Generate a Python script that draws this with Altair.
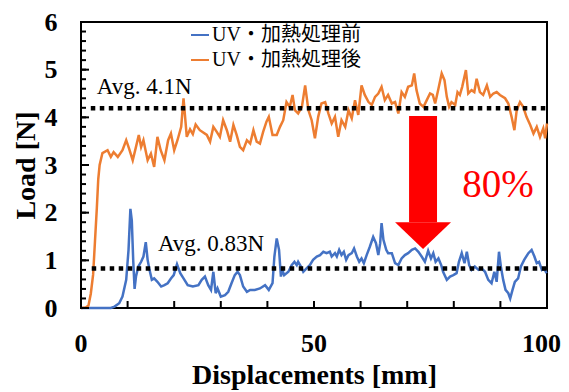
import altair as alt
import pandas as pd

# ---------------- data ----------------
series_names = ["UV・加熱処理前", "UV・加熱処理後"]
series_colors = ["#4472C4", "#ED7D31"]

before_x = [0, 6.4, 7.2, 8.2, 8.9, 9.7, 10.2, 10.6, 10.9, 11.2, 11.5, 11.8, 12.3, 12.9, 13.4, 13.9, 14.3, 14.7,
            15.2, 15.7, 16.4, 17.2, 17.9, 18.6, 19.3, 19.9, 20.6, 21.3, 22.2, 22.9, 24.0, 25.2, 25.9, 26.6, 27.3,
            27.9, 28.4, 28.9, 29.3, 30.0, 30.9, 31.6, 32.3, 33.0, 33.6, 34.1, 34.8, 35.6, 36.3, 37.3, 38.4, 39.5,
            40.3, 41.1, 41.5, 42.0, 42.5, 42.9, 43.2, 43.6, 44.5, 45.2, 45.8, 46.3, 46.6, 47.2, 47.7, 48.4, 49.1,
            49.8, 50.6, 51.3, 52.0, 52.7, 53.4, 53.8, 54.5, 54.9, 55.4, 55.9, 56.4, 56.9, 57.4, 58.1, 58.6, 59.2,
            59.7, 60.2, 60.7, 61.3, 62.0, 62.7, 63.3, 63.8, 64.2, 64.5, 64.9, 65.5, 65.9, 66.7, 67.4, 68.1, 68.8,
            69.5, 70.2, 71.0, 71.7, 72.4, 73.1, 73.8, 74.5, 75.1, 75.6, 76.1, 76.7, 77.3, 77.7, 78.5, 79.2, 79.9,
            80.6, 81.1, 81.7, 82.3, 82.8, 83.3, 83.8, 84.5, 85.3, 86.0, 86.7, 87.4, 88.1, 88.7, 89.2, 89.7, 90.1,
            90.6, 91.1, 91.7, 92.1, 92.6, 93.1, 93.8, 94.4, 95.1, 96.0, 96.7, 97.3, 97.8, 98.3, 98.9, 99.4, 99.9]
before_y = [0, 0, 0.03, 0.10, 0.24, 0.59, 1.22, 2.08, 1.84, 1.01, 0.40, 0.66, 0.87, 0.97, 1.08, 1.38, 1.01, 0.80,
            0.59, 0.62, 0.55, 0.45, 0.48, 0.52, 0.62, 0.69, 0.92, 0.73, 0.59, 0.48, 0.45, 0.48, 0.59, 0.66, 0.48,
            0.38, 0.76, 0.31, 0.41, 0.24, 0.27, 0.34, 0.52, 0.69, 0.76, 0.69, 0.45, 0.34, 0.38, 0.38, 0.41, 0.48,
            0.38, 0.52, 1.08, 1.46, 1.22, 0.66, 0.80, 0.69, 0.76, 0.90, 0.97, 0.90, 0.97, 0.87, 0.76, 0.83, 0.90,
            1.01, 1.08, 1.11, 1.18, 1.15, 1.18, 1.08, 1.15, 1.08, 1.22, 1.11, 1.18, 1.01, 1.11, 1.15, 1.25, 1.08,
            0.97, 1.04, 0.94, 1.11, 1.29, 1.49, 1.36, 1.11, 1.36, 1.78, 1.43, 1.22, 1.15, 1.15, 0.94, 0.90, 1.04,
            1.11, 1.15, 1.22, 1.25, 1.18, 1.08, 0.97, 1.20, 1.04, 1.15, 0.97, 1.04, 0.90, 0.76, 0.59, 0.66, 0.69,
            0.73, 0.97, 1.15, 0.94, 1.18, 0.90, 0.80, 0.87, 0.80, 0.83, 0.76, 0.59, 0.52, 0.76, 0.55, 1.18, 0.87,
            0.59, 0.38, 0.31, 0.20, 0.38, 0.55, 0.62, 0.87, 1.01, 1.15, 1.22, 1.08, 0.94, 0.97, 0.80, 0.83, 0.73]

after_x = [0, 1.0, 1.6, 2.1, 2.6, 3.0, 3.4, 3.7, 4.0, 4.6, 5.7, 6.4, 7.0, 7.9, 8.9, 9.7, 10.3, 11.1, 11.8, 12.4,
           12.9, 13.4, 14.3, 15.0, 15.7, 16.4, 17.1, 17.9, 18.7, 19.3, 20.0, 20.7, 21.5, 22.0, 22.7, 23.4, 24.0,
           24.6, 25.5, 27.0, 27.7, 28.4, 29.1, 29.8, 30.5, 31.3, 32.0, 32.7, 33.4, 34.1, 34.8, 35.6, 36.3, 37.0,
           37.7, 38.4, 39.1, 39.8, 40.3, 41.1, 42.0, 42.7, 43.4, 44.1, 44.8, 45.4, 45.9, 46.6, 47.4, 48.1, 48.8,
           49.5, 50.2, 50.9, 51.6, 52.4, 53.1, 53.8, 54.5, 55.2, 55.9, 56.7, 57.4, 58.1, 58.8, 59.5, 60.2, 60.9,
           61.7, 62.4, 63.1, 63.8, 64.5, 65.2, 65.9, 66.7, 67.4, 68.1, 68.8, 69.5, 70.2, 71.0, 71.5, 72.0, 72.7,
           73.5, 74.2, 74.9, 75.5, 76.0, 76.7, 77.4, 78.0, 78.5, 79.0, 79.5, 80.3, 80.8, 81.3, 81.8, 82.6, 83.1,
           83.8, 84.4, 84.9, 85.6, 86.3, 87.1, 87.8, 88.5, 89.2, 89.9, 91.0, 91.7, 92.4, 93.0, 93.5, 94.2, 94.9,
           95.6, 96.4, 97.1, 97.8, 98.5, 99.2, 99.6, 100]
after_y = [0, 0.01, 0.05, 0.30, 0.70, 1.40, 2.10, 2.70, 3.00, 3.25, 3.31, 3.17, 3.27, 3.17, 3.31, 3.52, 3.35, 3.10,
           3.38, 3.63, 3.38, 3.52, 3.10, 3.24, 2.96, 3.59, 3.31, 3.10, 3.52, 3.66, 3.31, 3.52, 3.80, 4.40, 3.59,
           3.75, 3.65, 3.85, 3.73, 3.63, 3.49, 3.80, 3.70, 3.59, 3.94, 3.73, 3.49, 3.84, 3.63, 3.38, 3.31, 3.52,
           3.45, 3.73, 3.49, 3.45, 3.70, 3.91, 4.01, 3.63, 3.63, 3.80, 3.94, 4.32, 4.22, 4.47, 4.15, 4.08, 4.22,
           4.67, 4.15, 3.94, 3.56, 4.01, 4.29, 4.32, 4.08, 3.87, 4.01, 3.59, 3.94, 3.80, 4.15, 3.98, 4.36, 4.05,
           4.67, 4.47, 4.32, 4.26, 4.43, 4.50, 4.64, 4.36, 4.47, 4.29, 4.32, 4.08, 4.53, 4.43, 4.64, 4.67, 4.92,
           4.57, 4.29, 4.22, 4.36, 4.50, 4.47, 4.29, 4.60, 4.92, 4.78, 4.43, 4.22, 4.32, 4.26, 4.53, 4.47, 4.64,
           4.99, 4.50, 4.57, 4.53, 4.81, 4.53, 4.47, 4.67, 4.43, 4.50, 4.53, 4.47, 4.40, 4.29, 4.01, 3.73, 4.15,
           4.32, 4.22, 4.01, 3.84, 3.66, 3.80, 3.59, 3.77, 3.56, 3.87]

# average lines and their labels
avg_levels = [4.19, 0.83]
avg_x_start = [2.1, 2.3]
avg_x_end = [100, 100]
avg_labels = ["Avg. 4.1N", "Avg. 0.83N"]
avg_label_x = [3.4, 16.5]
avg_label_y = [4.48, 1.20]

# arrow annotation
shaft_x = [70.4]
shaft_x2 = [76.4]
shaft_top = [4.03]
shaft_bottom = [1.80]
head_x = [67.4, 73.4, 79.4]
head_top = [1.80, 1.80, 1.80]
head_bottom = [1.80, 1.24, 1.80]

pct_text = ["80%"]
pct_x = [81.8]
pct_y = [2.33]

x_label_inner = [0, 50]
x_label_last = [100]
x_tick_values = [0, 10, 20, 30, 40, 50, 60, 70, 80, 90, 100]
y_label_values = [0, 1, 2, 3, 4, 5, 6]
y_minor_values = [round(i * 0.2, 1) for i in range(31)]

# ---------------- build tables ----------------
lines_df = pd.concat([
    pd.DataFrame({"x": before_x, "y": before_y, "series": series_names[0], "order": range(len(before_x))}),
    pd.DataFrame({"x": after_x, "y": after_y, "series": series_names[1], "order": range(len(after_x))}),
])
avg_df = pd.DataFrame({"level": avg_levels, "x0": avg_x_start, "x1": avg_x_end,
                       "label": avg_labels, "lx": avg_label_x, "ly": avg_label_y})
shaft_df = pd.DataFrame({"x": shaft_x, "x2": shaft_x2, "y": shaft_top, "y2": shaft_bottom})
head_df = pd.DataFrame({"x": head_x, "y": head_top, "y2": head_bottom})
pct_df = pd.DataFrame({"t": pct_text, "x": pct_x, "y": pct_y})
xt_df = pd.DataFrame({"x": x_tick_values})
xl_inner_df = pd.DataFrame({"x": x_label_inner, "t": [str(v) for v in x_label_inner]})
xl_last_df = pd.DataFrame({"x": x_label_last, "t": [str(v) for v in x_label_last]})
ymaj_df = pd.DataFrame({"y": y_label_values})
ymin_df = pd.DataFrame({"y": y_minor_values})

SERIF = "Liberation Serif"
SERIF_CJK = "Liberation Serif, Noto Sans CJK JP"
W, H = 466, 286

xscale = alt.Scale(domain=[0, 100], nice=False, zero=False)
yscale = alt.Scale(domain=[0, 6], nice=False)

xaxis = alt.Axis(values=x_label_inner, labels=False, title="Displacements [mm]", grid=False, domain=False,
                 ticks=False, titleFont=SERIF, titleFontSize=28, titleFontWeight="bold",
                 titleColor="black", titleBaseline="alphabetic", titleY=75, titleX=W / 2)
yaxis = alt.Axis(values=y_label_values, title="Load [N]", grid=False, domain=False, ticks=False,
                 labelFont=SERIF, labelFontSize=26, labelFontWeight="bold", labelColor="black",
                 labelPadding=24, labelFlush=False, labelOverlap=False,
                 titleFont=SERIF, titleFontSize=28, titleFontWeight="bold",
                 titleColor="black", titleAngle=270, titleBaseline="alphabetic", titleX=-47,
                 titleY=H / 2, titleAlign="center")

lines = alt.Chart(lines_df).mark_line(strokeWidth=2.5).encode(
    x=alt.X("x:Q", scale=xscale, axis=xaxis),
    y=alt.Y("y:Q", scale=yscale, axis=yaxis),
    order="order:Q",
    color=alt.Color("series:N", scale=alt.Scale(domain=series_names, range=series_colors),
                    legend=alt.Legend(title=None, orient="none", legendX=109, legendY=3,
                                      symbolType="stroke", symbolSize=324, symbolStrokeWidth=2,
                                      labelFont=SERIF_CJK, labelFontSize=20, labelColor="black",
                                      labelOffset=2, rowPadding=5, padding=0)),
)

avg_rules = alt.Chart(avg_df).mark_rule(color="black", strokeWidth=4.5, strokeDash=[4.5, 4.5]).encode(
    x=alt.X("x0:Q", scale=xscale), x2="x1:Q", y=alt.Y("level:Q", scale=yscale))
avg_text = alt.Chart(avg_df).mark_text(align="left", baseline="alphabetic", font=SERIF, fontSize=23,
                                       color="black").encode(
    x=alt.X("lx:Q", scale=xscale), y=alt.Y("ly:Q", scale=yscale), text="label:N")

shaft = alt.Chart(shaft_df).mark_rect(color="#FF0000").encode(
    x=alt.X("x:Q", scale=xscale), x2="x2:Q", y=alt.Y("y:Q", scale=yscale), y2="y2:Q")
head = alt.Chart(head_df).mark_area(color="#FF0000", opacity=1).encode(
    x=alt.X("x:Q", scale=xscale), y=alt.Y("y:Q", scale=yscale), y2="y2:Q")
pct = alt.Chart(pct_df).mark_text(align="left", baseline="alphabetic", font=SERIF, fontSize=39,
                                  color="#FF0000").encode(
    x=alt.X("x:Q", scale=xscale), y=alt.Y("y:Q", scale=yscale), text="t:N")

# x tick labels (the last one is kept inside the page edge)
xlab_inner = alt.Chart(xl_inner_df).mark_text(align="center", baseline="alphabetic", font=SERIF,
                                              fontSize=26, fontWeight="bold", color="black").encode(
    x=alt.X("x:Q", scale=xscale), y=alt.value(H + 44), text="t:N")
xlab_last = alt.Chart(xl_last_df).mark_text(align="right", baseline="alphabetic", font=SERIF,
                                            fontSize=26, fontWeight="bold", color="black", dx=14).encode(
    x=alt.X("x:Q", scale=xscale), y=alt.value(H + 44), text="t:N")

xticks = alt.Chart(xt_df).mark_rule(color="black", strokeWidth=2).encode(
    x=alt.X("x:Q", scale=xscale), y=alt.value(H), y2=alt.value(H - 7))
ymaj = alt.Chart(ymaj_df).mark_rule(color="black", strokeWidth=2).encode(
    y=alt.Y("y:Q", scale=yscale), x=alt.value(0), x2=alt.value(8))
ymin = alt.Chart(ymin_df).mark_rule(color="black", strokeWidth=2).encode(
    y=alt.Y("y:Q", scale=yscale), x=alt.value(0), x2=alt.value(5))

chart = alt.layer(lines, avg_rules, avg_text, shaft, head, pct, xlab_inner, xlab_last,
                  xticks, ymaj, ymin).properties(
    width=W, height=H,
    autosize=alt.AutoSizeParams(type="none"),
    padding={"left": 73, "top": 14, "right": 14, "bottom": 82},
    background="white",
).configure_view(stroke="black", strokeWidth=2, clip=False)

chart.save("out.html", embed_options={"renderer": "svg", "actions": False})
